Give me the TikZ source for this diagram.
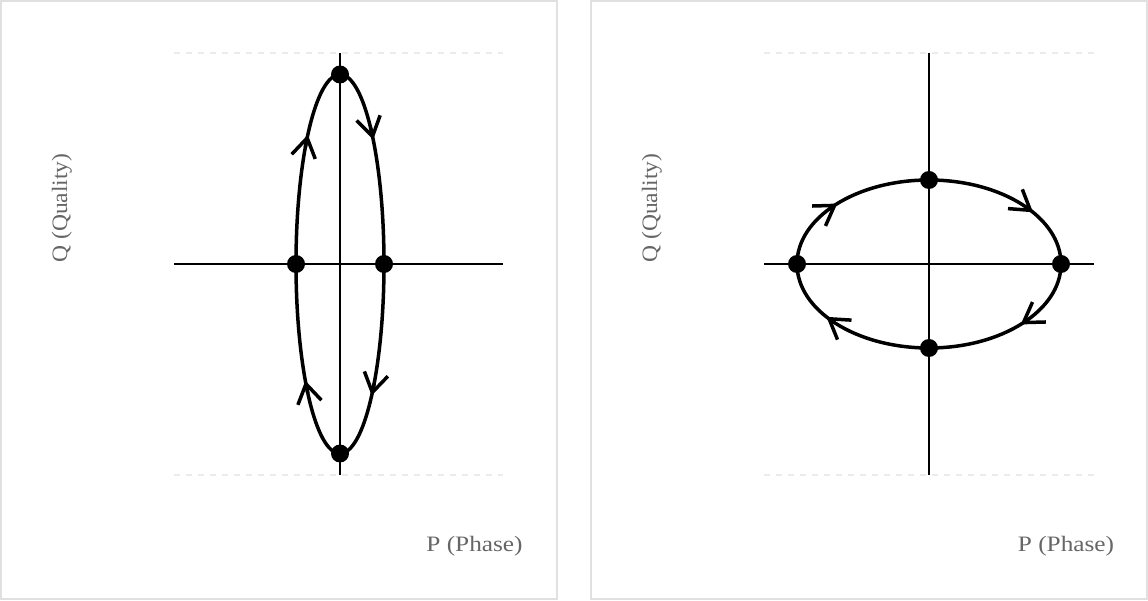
\documentclass[tikz,border=0pt]{standalone}
\usepackage{fontspec}
\setmainfont{Liberation Serif}
\usetikzlibrary{arrows.meta,calc}
\definecolor{panelborder}{RGB}{224,224,224}
\definecolor{gridgray}{RGB}{236,236,236}
\definecolor{labelgray}{RGB}{102,102,102}
\tikzset{
  panel/.style={draw=panelborder,line width=2pt},
  guide/.style={draw=gridgray,line width=2pt,dash pattern=on 6pt off 6pt},
  axis/.style={draw=black,line width=2pt},
  orbit/.style={draw=black,line width=3.5pt},
  dot/.style={circle,fill=black,inner sep=0pt,minimum size=18pt},
  flow/.style={line width=3.5pt,-{Straight Barb[length=19pt,width=24pt]}},
  lbl/.style={text=labelgray,font=\fontsize{22}{25}\selectfont,inner sep=0pt}
}
\begin{document}
\begin{tikzpicture}[x=1pt,y=1pt]
\useasboundingbox (0,0) rectangle (1148,600);
% panels
\draw[panel] (1,1) rectangle (557,599);
\draw[panel] (591,1) rectangle (1147,599);

% ---------- left panel ----------
\coordinate (cL) at (340,336);
\draw[guide] (174,547) -- (503,547);
\draw[guide] (174,125) -- (503,125);
\draw[axis] (174,336) -- (503,336);
\draw[axis] (340,547) -- (340,125);
\draw[orbit] (cL) ellipse [x radius=44, y radius=189.5];
\foreach \t in {41,137,218,-44}{
  \draw[flow] ($(cL)+({\t+5}:44 and 189.5)$) -- ($(cL)+(\t:44 and 189.5)$);
}
\node[dot] (Ltop) at (340,525.5) {};
\node[dot] (Lbot) at (340,146.5) {};
\node[dot] (Lleft) at (296,336) {};
\node[dot] (Lright) at (384,336) {};
\node[lbl,anchor=base] (Lp) at (474.5,48.7) {\scalebox{1.15}[1]{P (Phase)}};
\node[lbl,anchor=base,rotate=90] (Lq) at (67,392) {\scalebox{1.07}[1]{Q (Quality)}};

% ---------- right panel ----------
\coordinate (cR) at (929,336);
\draw[guide] (764,547) -- (1094,547);
\draw[guide] (764,125) -- (1094,125);
\draw[axis] (764,336) -- (1094,336);
\draw[axis] (929,547) -- (929,125);
\draw[orbit] (cR) ellipse [x radius=132, y radius=84];
\foreach \t in {38,134,219,-46}{
  \draw[flow] ($(cR)+({\t+5}:132 and 84)$) -- ($(cR)+(\t:132 and 84)$);
}
\node[dot] (Rtop) at (929,420) {};
\node[dot] (Rbot) at (929,252) {};
\node[dot] (Rleft) at (797,336) {};
\node[dot] (Rright) at (1061,336) {};
\node[lbl,anchor=base] (Rp) at (1066,48.7) {\scalebox{1.15}[1]{P (Phase)}};
\node[lbl,anchor=base,rotate=90] (Rq) at (657,392) {\scalebox{1.07}[1]{Q (Quality)}};
\end{tikzpicture}
\end{document}
